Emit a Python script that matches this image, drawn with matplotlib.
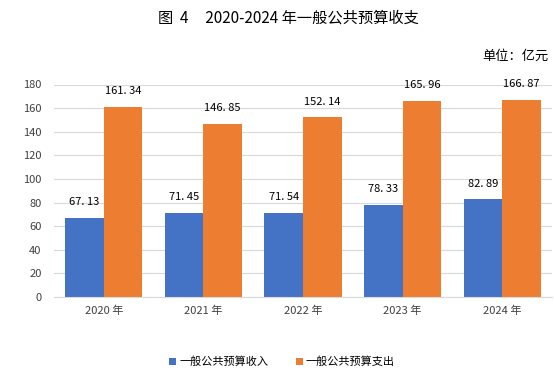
import matplotlib
matplotlib.use("Agg")
import matplotlib.pyplot as plt
import numpy as np

plt.rcParams['font.family'] = ['Noto Sans CJK SC', 'DejaVu Sans']

categories = ["2020 年", "2021 年", "2022 年", "2023 年", "2024 年"]
income = [67.13, 71.45, 71.54, 78.33, 82.89]
expense = [161.34, 146.85, 152.14, 165.96, 166.87]
series_names = ["一般公共预算收入", "一般公共预算支出"]
yticks = [0, 20, 40, 60, 80, 100, 120, 140, 160, 180]

fig = plt.figure(figsize=(5.54, 3.82), dpi=100)
ax = fig.add_axes([54/554, 1-297/382, (552-54)/554, (297-84.5)/382])

x = np.arange(len(categories))
w = 0.387
b1 = ax.bar(x - w/2, income, w, color='#4472C4', label=series_names[0], zorder=3)
b2 = ax.bar(x + w/2, expense, w, color='#ED7D31', label=series_names[1], zorder=3)

for rects, vals in ((b1, income), (b2, expense)):
    for r, v in zip(rects, vals):
        ax.text(r.get_x() + r.get_width()/2, v + 9, f"{v:.2f}".replace(".", ". "),
                ha='center', va='bottom', fontsize=8, color='#000000')

ax.set_xlim(-0.5, len(categories) - 0.5)
ax.set_ylim(0, 180)
ax.set_yticks(yticks)
ax.set_xticks(x)
ax.set_xticklabels(categories)
ax.tick_params(axis='both', length=0, labelsize=8, colors='#404040', pad=6)
ax.tick_params(axis='y', pad=9)
ax.grid(axis='y', color='#D9D9D9', linewidth=0.8, zorder=0)
for s in ['top', 'right', 'left']:
    ax.spines[s].set_visible(False)
ax.spines['bottom'].set_color('#D9D9D9')
ax.spines['bottom'].set_zorder(4)

fig.text(288/554, 1-18/382, "图  4     2020-2024 年一般公共预算收支", ha='center', va='center',
         fontsize=11, color='#000000')
fig.text(549/554, 1-56/382, "单位：亿元", ha='right', va='center', fontsize=9.5, color='#000000')

fig.legend(handles=[b1, b2], labels=series_names, loc='center', bbox_to_anchor=(282/554, 1-362/382),
           ncol=2, frameon=False, fontsize=8, handlelength=0.6, handleheight=0.6,
           handletextpad=0.3, columnspacing=2.5)

fig.savefig("out.png", dpi=100)
